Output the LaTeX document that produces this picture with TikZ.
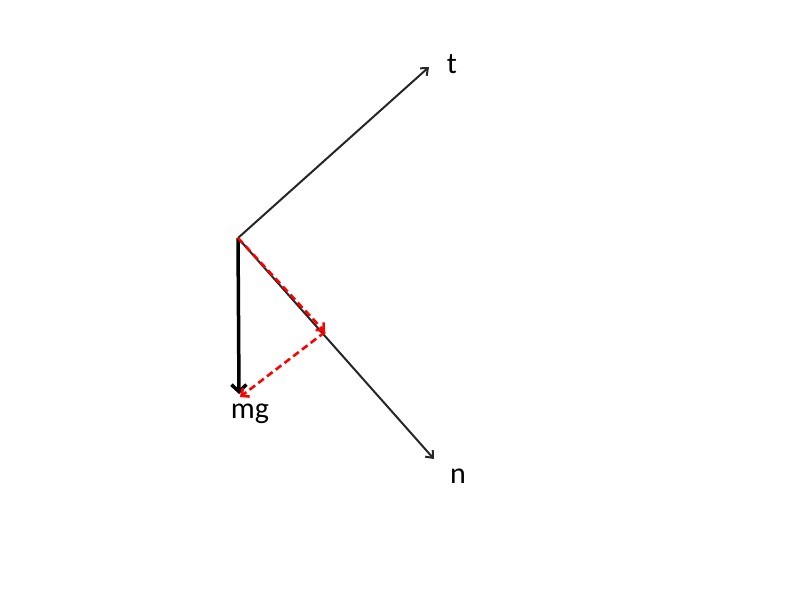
\documentclass[tikz,border=0pt]{standalone}
\usepackage{fontspec}
\setmainfont{Carlito}
\usetikzlibrary{arrows.meta}
\begin{document}
\begin{tikzpicture}[x=1pt,y=-1pt,
  axis/.style={draw=black!85,line width=2pt,-{Straight Barb[length=6pt,width=10pt]}},
  force/.style={draw=black,line width=3.5pt,-{Straight Barb[length=7pt,width=15pt]}},
  comp/.style={draw=red,line width=2.6pt,dash pattern=on 7pt off 4pt,-{Straight Barb[length=6pt,width=11pt]}},
  lbl/.style={font=\fontsize{30}{34}\selectfont,inner sep=0pt}]
\useasboundingbox (0,0) rectangle (800,600);
\coordinate (o) at (238,238);
\coordinate (t) at (429,67);
\coordinate (n) at (434,459);
\coordinate (g) at (239,394);
\coordinate (p) at (325,332);
\coordinate (g2) at (240,397);
\draw[axis] (o) -- (t);
\draw[axis] (o) -- (n);
\draw[force] (o) -- (g);
\draw[comp] (o) -- (p);
\draw[comp] (p) -- (g2);
\node[lbl] (tl) at (452,64) {t};
\node[lbl] (nl) at (458,476) {n};
\node[lbl] (ml) at (250,414) {mg};
\end{tikzpicture}
\end{document}
